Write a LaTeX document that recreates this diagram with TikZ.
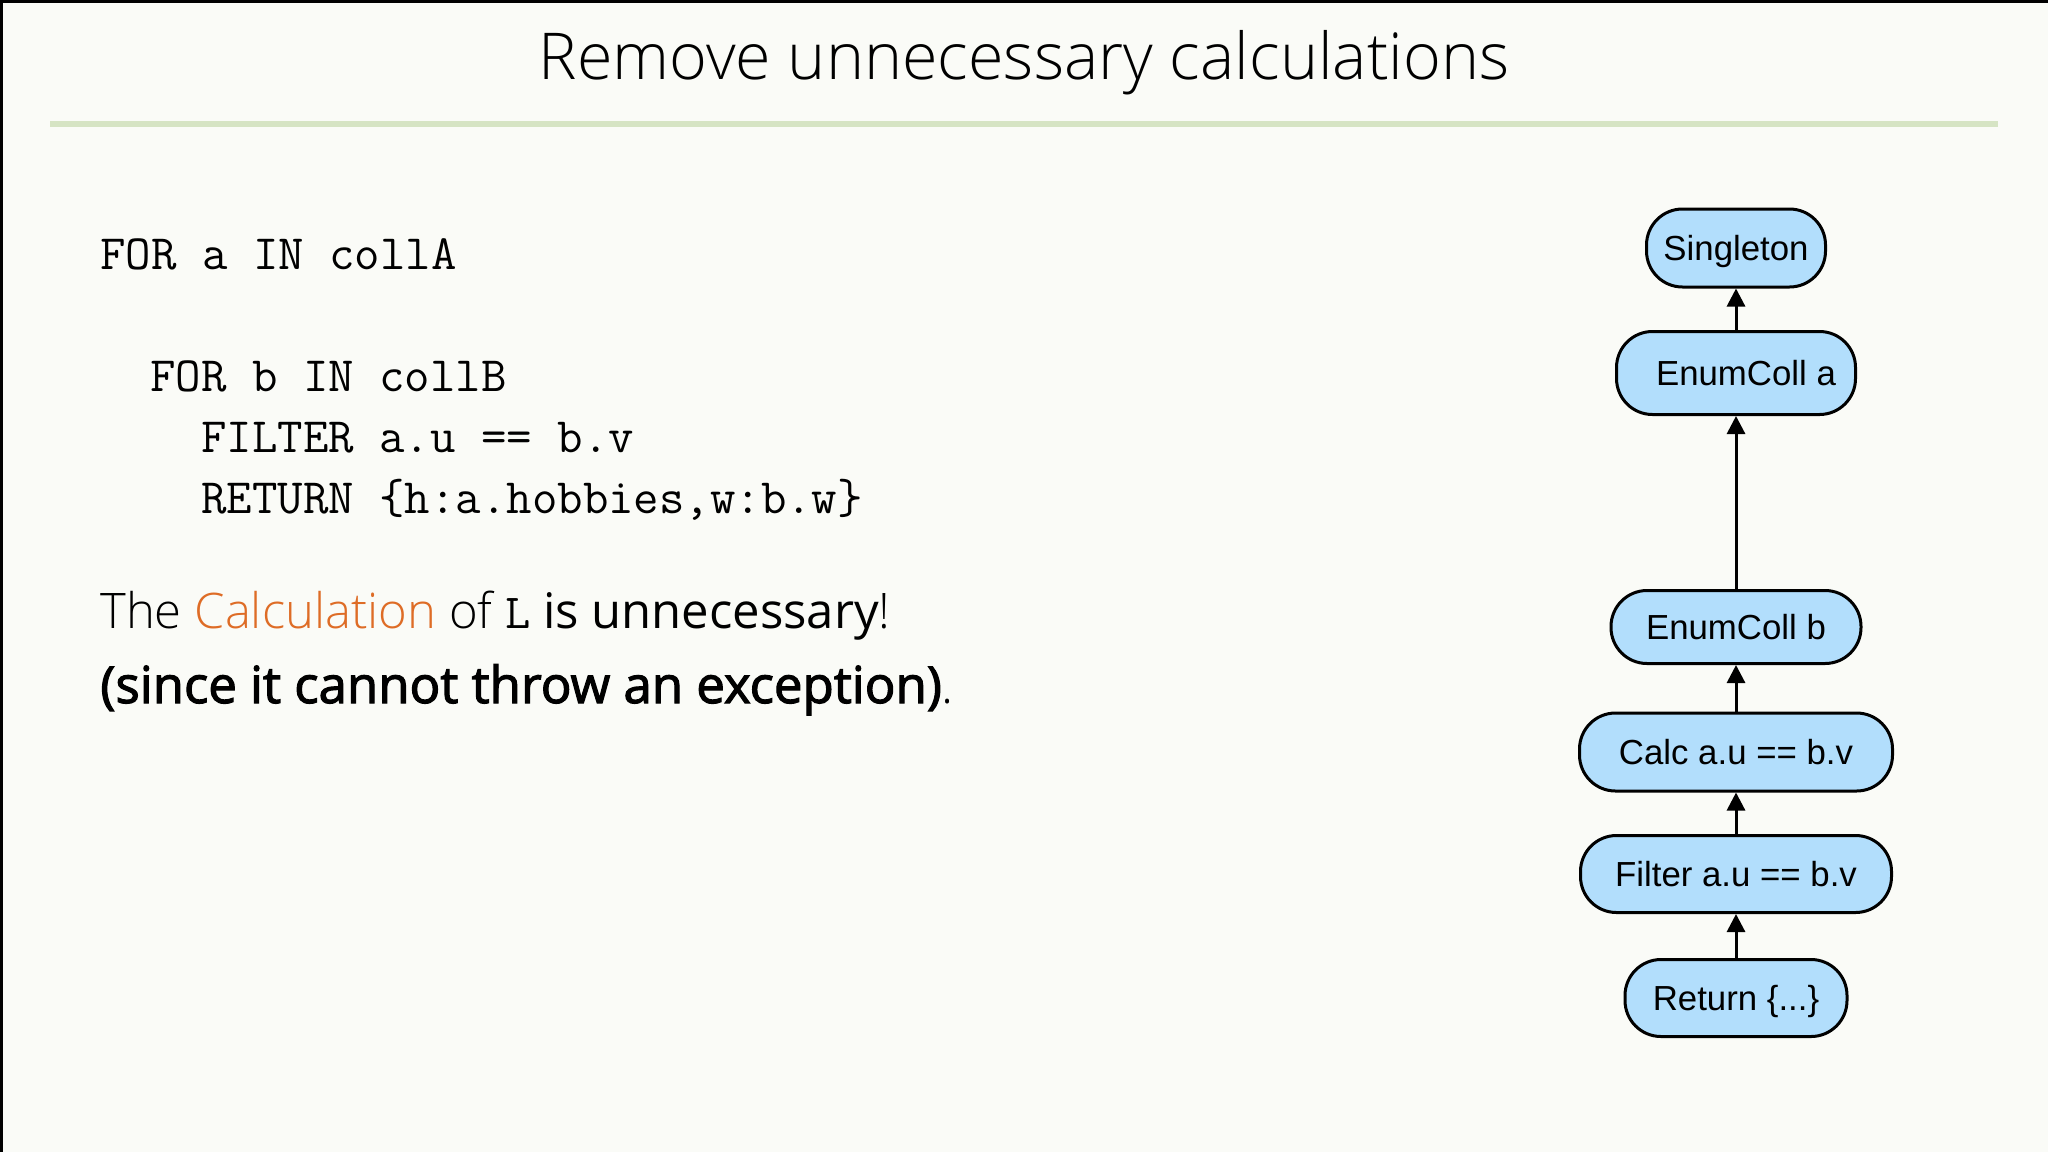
\documentclass[tikz,border=0pt]{standalone}
\usepackage{fontspec}
\setmainfont{Open Sans}
\newfontfamily\nodefont{Liberation Sans}
\newfontfamily\lightfont{Open Sans Light}
\newfontfamily\semifont{Open Sans}[FakeBold=2.2]
\usetikzlibrary{arrows.meta}
\definecolor{bgcol}{RGB}{250,251,247}
\definecolor{rulegreen}{RGB}{214,228,196}
\definecolor{nodeblue}{RGB}{178,222,252}
\definecolor{calcorange}{RGB}{222,108,38}
\tikzset{
  op/.style={draw=black, line width=1.5pt, fill=nodeblue, rounded corners=18pt,
    inner sep=0pt, text height=12.4pt, text depth=0pt,
    font=\nodefont\fontsize{17.4}{20}\selectfont},
  arr/.style={line width=1.5pt, -{Triangle[length=9pt,width=9pt]}},
  codeline/.style={anchor=base west, inner sep=0pt, font=\ttfamily\fontsize{24.7}{28}\selectfont},
  txt/.style={anchor=base west, inner sep=0pt, font=\fontsize{24.5}{28}\selectfont}
}
\begin{document}
\begin{tikzpicture}[x=0.5pt,y=-0.5pt]
\useasboundingbox (0,0) rectangle (2048,1152);
\fill[bgcol] (0,0) rectangle (2048,1152);
\draw[black, line width=1.5pt] (1,1152) -- (1,1) -- (2048,1);
% title
\node[anchor=base, inner sep=0pt, font=\lightfont\fontsize{32.3}{38}\selectfont] (title) at (1024,79) {Remove unnecessary calculations};
\coordinate (ruleL) at (50,124);
\coordinate (ruleR) at (1998,124);
\draw[rulegreen, line width=3pt] (ruleL) -- (ruleR);
% code
\node[codeline] (code1) at (100,269) {FOR a IN collA};
\node[codeline] (code2) at (150,391) {FOR b IN collB};
\node[codeline] (code3) at (201,452) {FILTER a.u == b.v};
\node[codeline] (code4) at (201,513) {RETURN \{h:a.hobbies,w:b.w\}};
% text
\node[txt] (line1) at (100,628) {\lightfont The \textcolor{calcorange}{Calculation} of {\ttfamily L} {\fontspec{Open Sans}is unnecessary}!};
\node[txt, font=\fontsize{25.5}{28}\selectfont] (line2) at (100,703) {{\semifont (since it cannot throw an exception)}{\lightfont .}};
% graph
\node[op, minimum width=89.5pt, minimum height=39pt] (sing) at (1736,248) {Singleton};
\node[op, minimum width=119.5pt, minimum height=41.5pt] (ea) at (1736,373) {\hspace*{10pt}EnumColl a};
\node[op, minimum width=125pt, minimum height=36.5pt] (eb) at (1736,627) {EnumColl b};
\node[op, minimum width=156.5pt, minimum height=39pt] (calc) at (1736,752) {Calc a.u == b.v};
\node[op, minimum width=155.5pt, minimum height=38.5pt] (filt) at (1736,874) {Filter a.u == b.v};
\node[op, minimum width=111pt, minimum height=38.5pt] (ret) at (1736,998) {Return \{...\}};
\draw[arr] (ret) -- (filt);
\draw[arr] (filt) -- (calc);
\draw[arr] (calc) -- (eb);
\draw[arr] (eb) -- (ea);
\draw[arr] (ea) -- (sing);
\end{tikzpicture}
\end{document}
